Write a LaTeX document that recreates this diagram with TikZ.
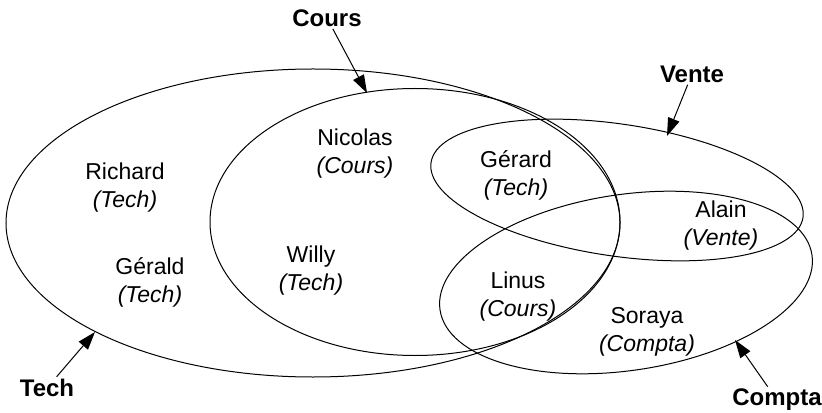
\documentclass[tikz,border=0pt]{standalone}
\usepackage{fontspec}
\setmainfont{Liberation Sans}
\usetikzlibrary{arrows.meta}
\tikzset{
  member/.style={font=\fontsize{11.5}{14}\selectfont,text=black,align=center,inner sep=1pt},
  setname/.style={font=\fontsize{12}{14}\selectfont\bfseries,text=black,inner sep=1pt},
  pointer/.style={black,line width=0.5pt,-{Triangle[length=9pt,width=6pt]}}
}

\begin{document}
\begin{tikzpicture}[x=0.5pt,y=0.5pt]
\useasboundingbox (0,0) rectangle (822,412);
% the four sets
\draw[black,line width=0.5pt] (313,189) ellipse [x radius=307, y radius=154];
\draw[black,line width=0.5pt] (415,190) ellipse [x radius=205, y radius=133.5];
\draw[black,line width=0.5pt] (617,222) ellipse [x radius=188, y radius=66, rotate=-8.4];
\draw[black,line width=0.5pt] (626,129.5) ellipse [x radius=188, y radius=88, rotate=8.4];

% members
\node[member] (richard) at (125,224) {Richard\\\textit{(Tech)}};
\node[member] (nicolas) at (355,258) {Nicolas\\\textit{(Cours)}};
\node[member] (gerard) at (516,237) {Gérard\\\textit{(Tech)}};
\node[member] (alain) at (721,186) {Alain\\\textit{(Vente)}};
\node[member] (gerald) at (150,130) {Gérald\\\textit{(Tech)}};
\node[member] (willy) at (311,141) {Willy\\\textit{(Tech)}};
\node[member] (linus) at (518,115.5) {Linus\\\textit{(Cours)}};
\node[member] (soraya) at (647,80.5) {Soraya\\\textit{(Compta)}};

% set names and pointers
\node[setname] (cours) at (327,394) {Cours};
\node[setname] (vente) at (692,338) {Vente};
\node[setname] (tech) at (47,24) {Tech};
\node[setname] (compta) at (777,12) {Compta};
\coordinate (coursTip) at (367,319);
\coordinate (venteTip) at (667,276);
\coordinate (techTip) at (95,80);
\coordinate (comptaTip) at (735,72);
\draw[pointer] (cours) -- (coursTip);
\draw[pointer] (vente) -- (venteTip);
\draw[pointer] (tech) -- (techTip);
\draw[pointer] (compta) -- (comptaTip);
\end{tikzpicture}
\end{document}
